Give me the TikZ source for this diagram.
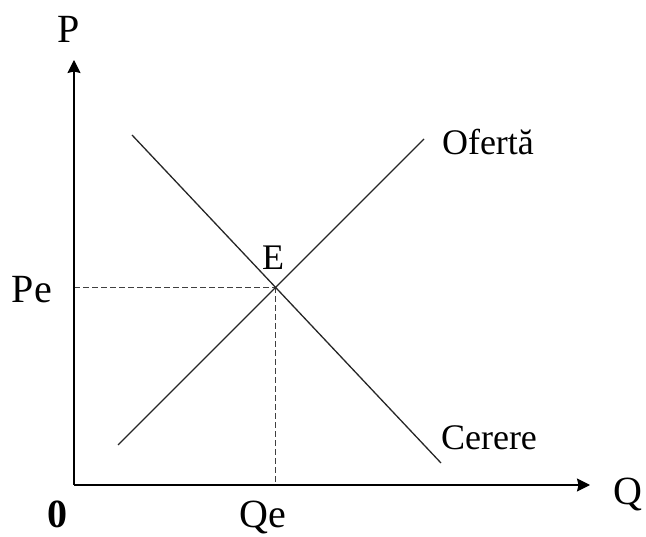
\documentclass[tikz,border=0pt]{standalone}
\usepackage{fontspec}
\setmainfont{Liberation Serif}
\usetikzlibrary{arrows.meta,calc}
\begin{document}
\begin{tikzpicture}[x=1pt,y=-1pt,
  axis/.style={line width=1.2pt,-{Stealth[length=13pt,width=13pt,inset=1.5pt]}},
  curve/.style={line width=1.3pt,black!85},
  guide/.style={line width=1pt,black!75,dash pattern=on 6pt off 3pt},
  biglbl/.style={anchor=base,inner sep=0pt,font=\fontsize{40}{44}\selectfont},
  lbl/.style={anchor=base,inner sep=0pt,font=\fontsize{36}{40}\selectfont}]
\useasboundingbox (0,0) rectangle (646,537);
\coordinate (O) at (74,485);
\coordinate (ytip) at (74,60);
\coordinate (xtip) at (590,485);
\coordinate (s1) at (118,445);
\coordinate (s2) at (424,139);
\coordinate (d1) at (132,135);
\coordinate (d2) at (441,463);
\coordinate (eq) at (intersection of s1--s2 and d1--d2);
\draw[guide] (O |- eq) -- (eq);
\draw[guide] (eq) -- (eq |- O);
\draw[curve] (s1) -- (s2);
\draw[curve] (d1) -- (d2);
\draw[axis] (O) -- (ytip);
\draw[axis] (O) -- (xtip);
\node[biglbl] (P) at (69,43) {P};
\node[biglbl] (Q) at (628,504) {Q};
\node[biglbl] (zero) at (57,527) {\bfseries 0};
\node[biglbl] (Qe) at (263,527) {Qe};
\node[biglbl] (Pe) at (32,303) {Pe};
\node[lbl] (E) at (273,270) {E};
\node[lbl] (of) at (488,155) {Ofertă};
\node[lbl] (ce) at (489,450) {Cerere};
\end{tikzpicture}
\end{document}
